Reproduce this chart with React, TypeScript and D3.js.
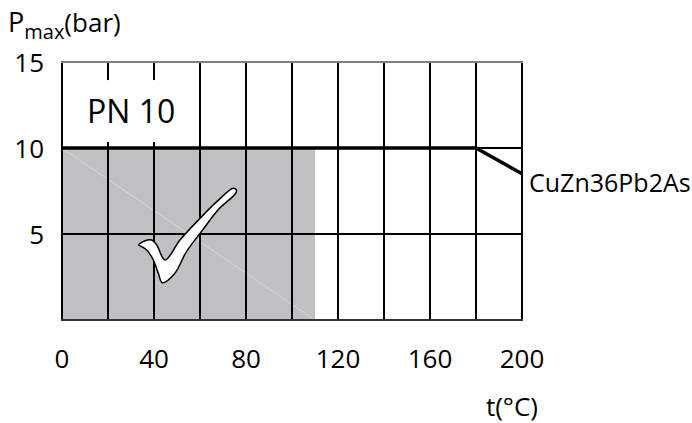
import React from "react";
import * as d3 from "d3";

const W = 692;
const H = 423;

// Axis/grid values
const xGridValues = [0, 20, 40, 60, 80, 100, 120, 140, 160, 180, 200];
const xTickLabels = [0, 40, 80, 120, 160, 200];
const yGridValues = [0, 5, 10, 15];
const yTickLabels = [5, 10, 15];

// Series: max pressure vs temperature (CuZn36Pb2As)
const seriesT = [0, 180, 200];
const seriesP = [10, 10, 8.5];
const seriesName = "CuZn36Pb2As";

// Recommended range (shaded)
const shadeT = [0, 110];
const shadeP = [0, 10];

// PN label box (data units)
const pnLabel = "PN 10";
const pnBoxT = [0, 55];
const pnBoxP = [10.35, 13.95];

// Check mark outline (data units)
const checkT = [33.3, 36.1, 39.0, 41.2, 44.8, 51.3, 60.0, 67.3, 74.5, 75.9, 75.4, 68.2, 60.5, 54.0, 49.0, 43.6, 41.9, 39.7, 36.8, 34.2];
const checkP = [4.36, 4.61, 4.65, 4.36, 3.49, 4.65, 5.91, 6.88, 7.66, 7.52, 7.34, 6.45, 5.12, 3.95, 2.71, 2.17, 2.71, 3.49, 4.07, 4.3];

const FONT = "'Open Sans', 'Noto Sans', sans-serif";

export default function App() {
  const x = d3.scaleLinear().domain([0, 200]).range([62, 522]);
  const y = d3.scaleLinear().domain([0, 15]).range([320, 62]);

  const line = d3
    .line<number>()
    .x((_, i) => x(seriesT[i]))
    .y((_, i) => y(seriesP[i]));
  const linePath = line(seriesP) || "";

  const checkPts: [number, number][] = checkT.map((t, i) => [x(t), y(checkP[i])]);
  const checkPath = d3.line().curve(d3.curveCatmullRomClosed.alpha(0.5))(checkPts) || "";

  return (
    <svg
      width={W}
      height={H}
      style={{ position: "absolute", left: 0, top: 0, background: "#fff" }}
      fontFamily={FONT}
    >
      <rect x={0} y={0} width={W} height={H} fill="#fff" />
      {/* shaded region */}
      <rect
        x={x(shadeT[0])}
        y={y(shadeP[1])}
        width={x(shadeT[1]) - x(shadeT[0])}
        height={y(shadeP[0]) - y(shadeP[1])}
        fill="#bfc0c2"
      />
      {/* faint diagonal artifact */}
      <line
        x1={x(shadeT[0])}
        y1={y(shadeP[1])}
        x2={x(shadeT[1])}
        y2={y(shadeP[0])}
        stroke="#d8d9da"
        strokeWidth={1}
      />
      {/* vertical grid */}
      {xGridValues.map((v) => (
        <line key={"vx" + v} x1={x(v)} x2={x(v)} y1={y(15)} y2={y(0)} stroke="#000" strokeWidth={2} />
      ))}
      {/* horizontal grid */}
      {yGridValues.map((v) => (
        <line
          key={"hy" + v}
          x1={x(0) - 1}
          x2={x(200) + 1}
          y1={y(v)}
          y2={y(v)}
          stroke={v === 15 ? "#808080" : v === 0 ? "#333" : "#000"}
          strokeWidth={2}
        />
      ))}
      {/* PN label box */}
      <rect
        x={x(pnBoxT[0]) + 1.5}
        y={y(pnBoxP[1])}
        width={x(pnBoxT[1]) - x(pnBoxT[0]) - 1.5}
        height={y(pnBoxP[0]) - y(pnBoxP[1])}
        fill="#fff"
      />
      <text x={87} y={123} fontSize={32} fill="#000">
        {pnLabel}
      </text>
      {/* series line */}
      <path d={linePath} fill="none" stroke="#000" strokeWidth={3.5} strokeLinejoin="miter" />
      <text x={x(200) + 7} y={y(seriesP[2]) + 18} fontSize={25} fill="#000">
        {seriesName}
      </text>
      {/* check mark */}
      <path d={checkPath} fill="#fff" stroke="#000" strokeWidth={1.5} strokeLinejoin="round" />
      {/* y tick labels */}
      {yTickLabels.map((v) => (
        <text key={"yl" + v} x={44} y={y(v) + 9.5} fontSize={26} textAnchor="end" fill="#000">
          {v}
        </text>
      ))}
      {/* x tick labels */}
      {xTickLabels.map((v) => (
        <text key={"xl" + v} x={x(v)} y={368} fontSize={26} textAnchor="middle" fill="#000">
          {v}
        </text>
      ))}
      {/* axis titles */}
      <text x={8} y={32} fontSize={27} fill="#000">
        P
        <tspan fontSize={20} dy={7}>
          max
        </tspan>
        <tspan fontSize={26} dy={-7}>
          (bar)
        </tspan>
      </text>
      <text x={538} y={416} fontSize={26} textAnchor="end" fill="#000">
        t(°C)
      </text>
    </svg>
  );
}
